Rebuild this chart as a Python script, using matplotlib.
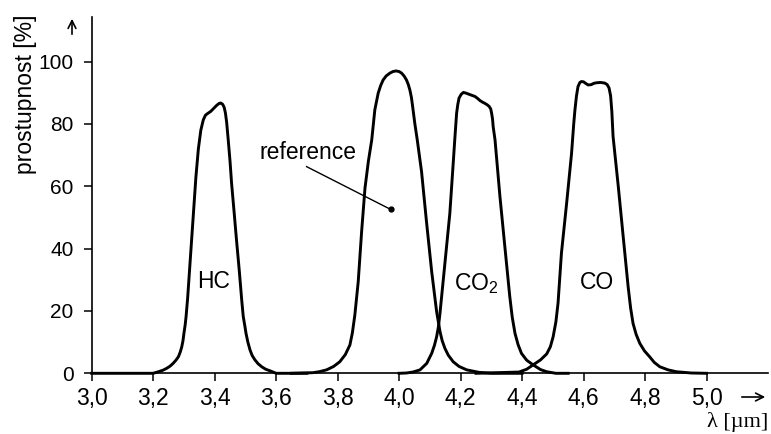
import matplotlib
matplotlib.use("Agg")
import matplotlib.pyplot as plt

plt.rcParams['font.family'] = ['Liberation Sans', 'DejaVu Sans']
plt.rcParams['mathtext.fontset'] = 'custom'
plt.rcParams['mathtext.rm'] = 'Liberation Sans'

# transmisní křivky filtrů (lambda v um, prostupnost v %)
hc_x = [3.00, 3.20, 3.217, 3.232, 3.244, 3.255, 3.265, 3.274, 3.282, 3.288, 3.293, 3.297,
        3.30, 3.304, 3.307, 3.312, 3.321, 3.33, 3.339, 3.347, 3.355, 3.363, 3.37, 3.378,
        3.387, 3.397, 3.407, 3.415, 3.42, 3.426, 3.431, 3.435, 3.439, 3.444, 3.45, 3.455,
        3.463, 3.471, 3.48, 3.488, 3.493, 3.498, 3.502, 3.508, 3.515, 3.522, 3.531, 3.541,
        3.553, 3.566, 3.58, 3.60, 3.70]
hc_y = [0, 0, 0.5, 1.0, 1.6, 2.3, 3.2, 4.2, 5.3, 6.8, 8.5, 10.5,
        12.8, 15.5, 18.2, 24, 37, 50, 63, 72, 78, 81.3, 82.8, 83.4,
        84.0, 85.0, 86.0, 86.6, 86.7, 86.3, 85.3, 83.5, 80.5, 75, 68, 61,
        52, 42.8, 33, 23.5, 18.2, 15.3, 12.8, 10, 7.5, 5.7, 4.3, 3.1,
        2.1, 1.3, 0.8, 0, 0]

ref_x = [3.65, 3.72, 3.74, 3.764, 3.787, 3.807, 3.825, 3.84, 3.848, 3.856, 3.867, 3.878,
         3.889, 3.90, 3.911, 3.921, 3.932, 3.94, 3.948, 3.958, 3.97, 3.98, 3.99, 4.0,
         4.008, 4.016, 4.024, 4.03, 4.035, 4.04, 4.044, 4.051, 4.059, 4.073, 4.089, 4.106,
         4.122, 4.133, 4.14, 4.149, 4.16, 4.176, 4.195, 4.22, 4.26, 4.30, 4.40]
ref_y = [0, 0.2, 0.5, 1.1, 2.2, 3.7, 6, 9.1, 13, 18.7, 29.4, 45.4,
         59.4, 68, 74.9, 84.5, 89.9, 92.3, 94.1, 95.4, 96.3, 96.8, 97, 96.8,
         96.3, 95.4, 94.1, 92.6, 90.9, 88.5, 85.6, 80.2, 74.9, 64.7, 48.7, 32.6,
         19.8, 13.4, 10.5, 8, 5.8, 3.7, 2.2, 1.1, 0.3, 0, 0]

co2_x = [4.00, 4.024, 4.045, 4.068, 4.09, 4.106, 4.115, 4.122, 4.128, 4.133, 4.149, 4.165,
         4.176, 4.181, 4.187, 4.191, 4.195, 4.202, 4.209, 4.217, 4.225, 4.236, 4.247, 4.255,
         4.263, 4.271, 4.279, 4.287, 4.293, 4.298, 4.301, 4.304, 4.306, 4.312, 4.328, 4.344,
         4.36, 4.368, 4.377, 4.387, 4.398, 4.415, 4.436, 4.46, 4.48, 4.51, 4.55]
co2_y = [0, 0.1, 0.4, 1.1, 3.2, 6.4, 9, 11.7, 15, 19.3, 35.3, 51.3,
         67.4, 74.9, 83.4, 86.3, 88.3, 89.5, 90.1, 89.9, 89.6, 89.2, 88.8, 88.2,
         87.5, 87.0, 86.6, 86.1, 85.6, 84.8, 83.4, 81.5, 79.1, 74.9, 56.7, 40.6,
         24.6, 18, 12.8, 9.2, 6.4, 4.2, 2.7, 1.2, 0.5, 0, 0]

co_x = [4.25, 4.39, 4.415, 4.436, 4.46, 4.48, 4.492, 4.501, 4.51, 4.517, 4.528, 4.545,
        4.561, 4.568, 4.572, 4.577, 4.582, 4.588, 4.593, 4.60, 4.607, 4.615, 4.625, 4.633,
        4.642, 4.655, 4.669, 4.677, 4.683, 4.688, 4.692, 4.696, 4.713, 4.729, 4.745, 4.753,
        4.761, 4.771, 4.783, 4.798, 4.815, 4.83, 4.848, 4.875, 4.902, 4.95, 5.00]
co_y = [0, 0.4, 1.3, 2.7, 4.3, 6.2, 8.5, 11.7, 16.5, 22.5, 38.5, 54.6,
        70.6, 80, 84.5, 89, 92, 93.3, 93.6, 93.5, 93.0, 92.5, 92.6, 93.0,
        93.2, 93.3, 93.1, 92.6, 91.5, 89, 84, 76, 59.9, 43.8, 27.8, 21,
        16, 12.5, 9.6, 7.2, 5.3, 3.5, 2.1, 1.1, 0.5, 0.1, 0]

x_ticks = [3.0, 3.2, 3.4, 3.6, 3.8, 4.0, 4.2, 4.4, 4.6, 4.8, 5.0]
x_tick_labels = ['3,0', '3,2', '3,4', '3,6', '3,8', '4,0', '4,2', '4,4', '4,6', '4,8', '5,0']
y_ticks = [0, 20, 40, 60, 80, 100]

W, H = 771, 434
fig = plt.figure(figsize=(W / 100, H / 100), dpi=100)
ax = fig.add_axes([91.7 / W, 1 - 373.3 / H, (768 - 91.7) / W, (373.3 - 17) / H])

for xs, ys in [(hc_x, hc_y), (ref_x, ref_y), (co2_x, co2_y), (co_x, co_y)]:
    ax.plot(xs, ys, color='black', lw=2.1, solid_joinstyle='round', clip_on=False, zorder=3)

ax.set_xlim(3.0, 5.2)
ax.set_ylim(0, 114.3)
ax.set_xticks(x_ticks)
ax.set_xticklabels(x_tick_labels, fontsize=16.5)
ax.set_yticks(y_ticks)
ax.set_yticklabels([str(v) for v in y_ticks], fontsize=15)
ax.tick_params(axis='x', direction='out', length=6, width=1.1, pad=4)
ax.tick_params(axis='y', direction='out', length=6, width=1.1, pad=7)
for s in ['top', 'right']:
    ax.spines[s].set_visible(False)
for s in ['left', 'bottom']:
    ax.spines[s].set_linewidth(1.2)

# popisky
ax.text(3.396, 29.3, 'HC', fontsize=16.5, ha='center', va='center')
ax.text(4.251, 28.7, 'CO$_\\mathregular{2}$', fontsize=16.5, ha='center', va='center')
ax.text(4.645, 29.1, 'CO', fontsize=16.5, ha='center', va='center')
ax.text(3.547, 70.9, 'reference', fontsize=16.5, ha='left', va='center')
ax.plot([3.699, 3.972], [66.3, 52.6], color='black', lw=1)
ax.plot([3.972], [52.6], 'o', color='black', ms=3.5)

# osy - popisy a sipky
fig.text(26 / W, 1 - 15 / H, 'prostupnost [%]', rotation=90, ha='center', va='top', fontsize=16.5)
ax.annotate('', xy=(72 / W, 1 - 16 / H), xytext=(72 / W, 1 - 37 / H),
            xycoords='figure fraction', textcoords='figure fraction',
            arrowprops=dict(arrowstyle='->', lw=1.2, mutation_scale=14))
ax.annotate('', xy=(768 / W, 1 - 397 / H), xytext=(739 / W, 1 - 397 / H),
            xycoords='figure fraction', textcoords='figure fraction',
            arrowprops=dict(arrowstyle='->', lw=1.2, mutation_scale=14))
fig.text(768 / W, 2 / H, 'λ [µm]', ha='right', va='bottom', fontsize=16,
         family=['Liberation Serif', 'DejaVu Serif'])

fig.savefig('out.png', dpi=100)
